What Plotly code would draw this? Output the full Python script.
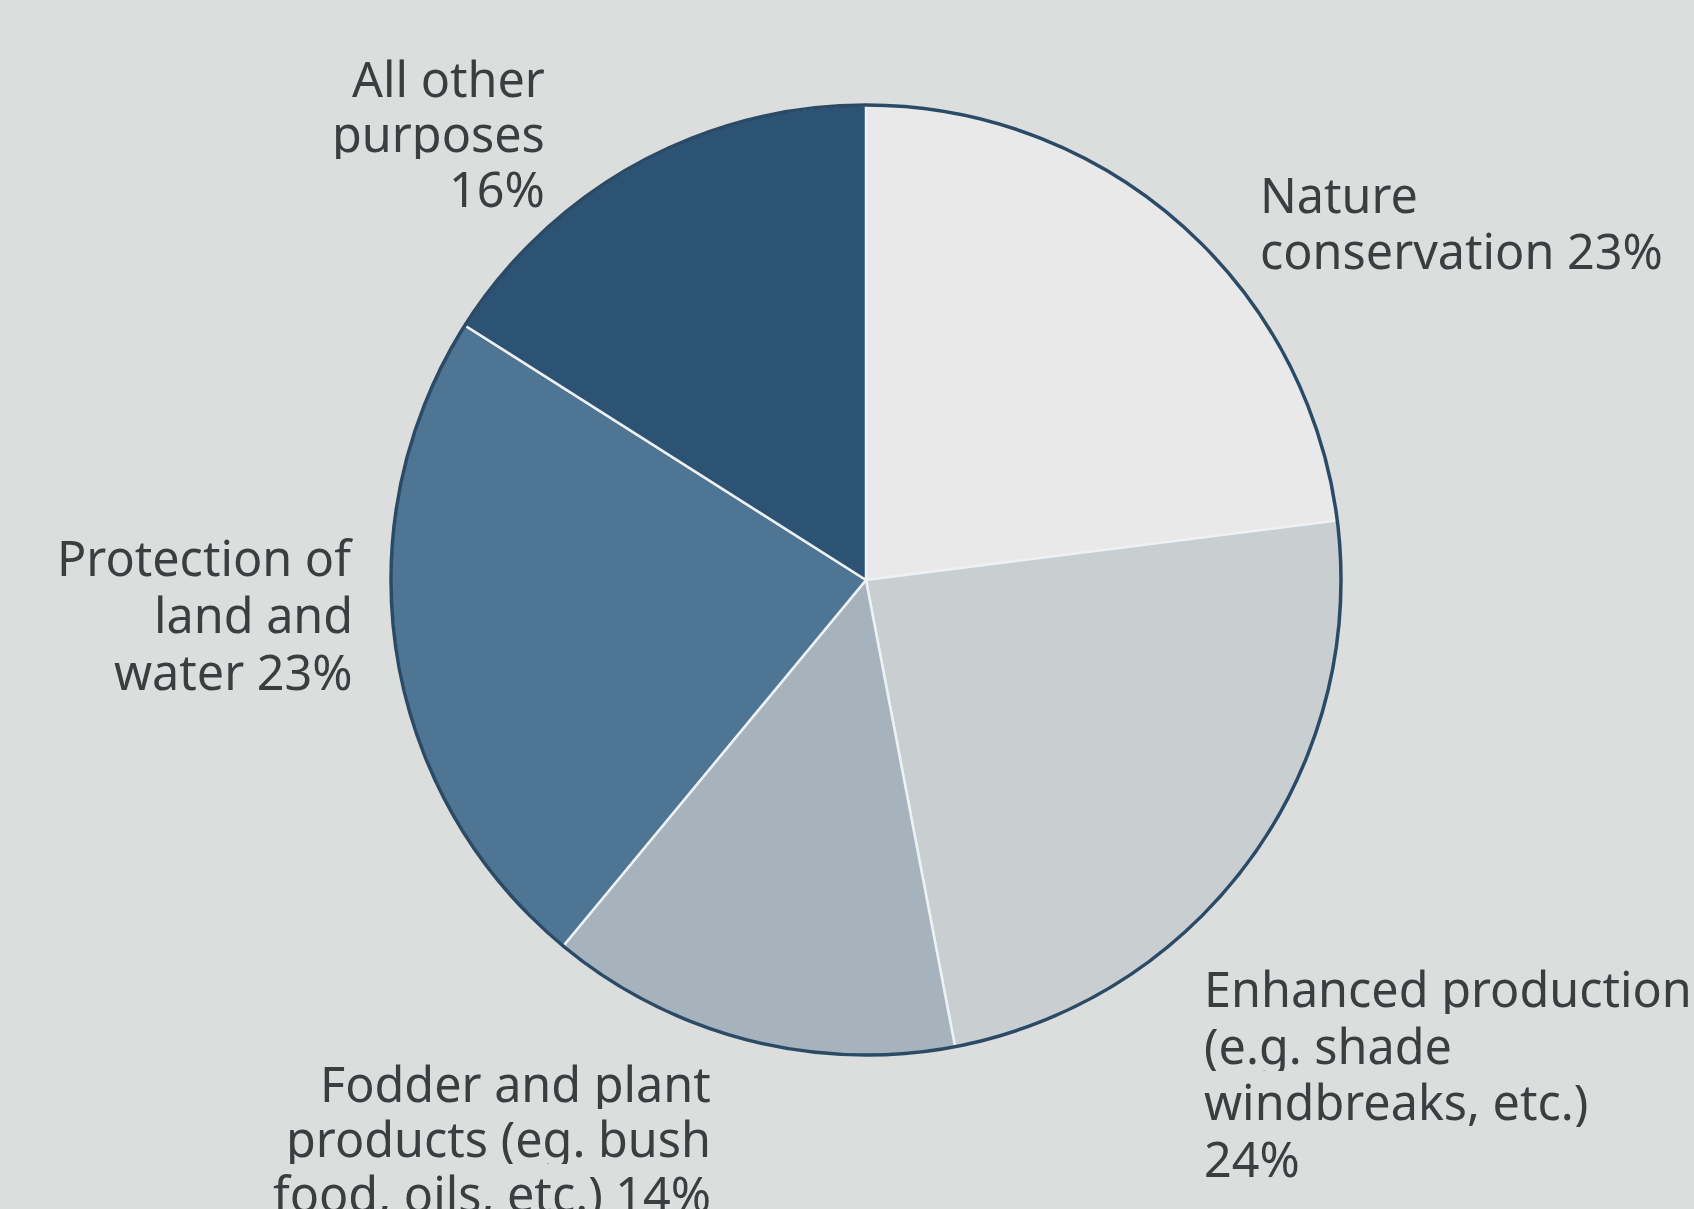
import plotly.graph_objects as go

W, H = 1694, 1209

categories = [
    "Nature conservation",
    "Enhanced production",
    "Fodder and plant products",
    "Protection of land and water",
    "All other purposes",
]
values = [23, 24, 14, 23, 16]
colors = ["#e8e9e8", "#c9ced0", "#a6b3bd", "#4e7594", "#2d5374"]

label_lines = [
    ["Nature", "conservation 23%"],
    ["Enhanced production", "(e.g. shade", "windbreaks, etc.)", "24%"],
    ["Fodder and plant", "products (eg. bush", "food, oils, etc.) 14%"],
    ["Protection of", "land and", "water 23%"],
    ["All other", "purposes", "16%"],
]
# label anchors in pixels: x edge, baseline of first line, line step, side
label_pos = [
    (1259, 213, 56, "left"),
    (1203, 1007, 56.5, "left"),
    (712, 1102, 55, "right"),
    (354, 576, 57, "right"),
    (546, 97, 55, "right"),
]

# pie geometry (pixels)
cx, cy, r = 866, 580, 475

fig = go.Figure()
fig.add_trace(go.Pie(
    labels=categories,
    values=values,
    sort=False,
    direction="clockwise",
    rotation=0,
    textinfo="none",
    hoverinfo="label+percent",
    marker=dict(colors=colors, line=dict(color="#eef1f3", width=2.5)),
    domain=dict(x=[(cx - r) / W, (cx + r) / W], y=[1 - (cy + r) / H, 1 - (cy - r) / H]),
    showlegend=False,
))

fig.add_shape(
    type="circle", xref="paper", yref="paper",
    x0=(cx - r) / W, x1=(cx + r) / W,
    y0=1 - (cy + r) / H, y1=1 - (cy - r) / H,
    line=dict(color="#2a4a66", width=3.5),
)

FS = 48.5
for lines, (px, base, step, anc) in zip(label_lines, label_pos):
    for i, line in enumerate(lines):
        mid = base + i * step - 0.388 * FS
        fig.add_annotation(
            x=px / W, y=1 - mid / H, xref="paper", yref="paper",
            text=line, showarrow=False, xanchor=anc, yanchor="middle", align=anc,
            borderpad=0, height=52, valign="middle",
            font=dict(family="Noto Sans", size=FS, color="#3b3e40"),
        )

fig.update_layout(
    width=W, height=H,
    margin=dict(l=0, r=0, t=0, b=0),
    paper_bgcolor="#dcdedd",
    plot_bgcolor="#dcdedd",
)

fig.write_html("out.html", config={"displayModeBar": False},
               post_script="document.body.style.margin='0';")
